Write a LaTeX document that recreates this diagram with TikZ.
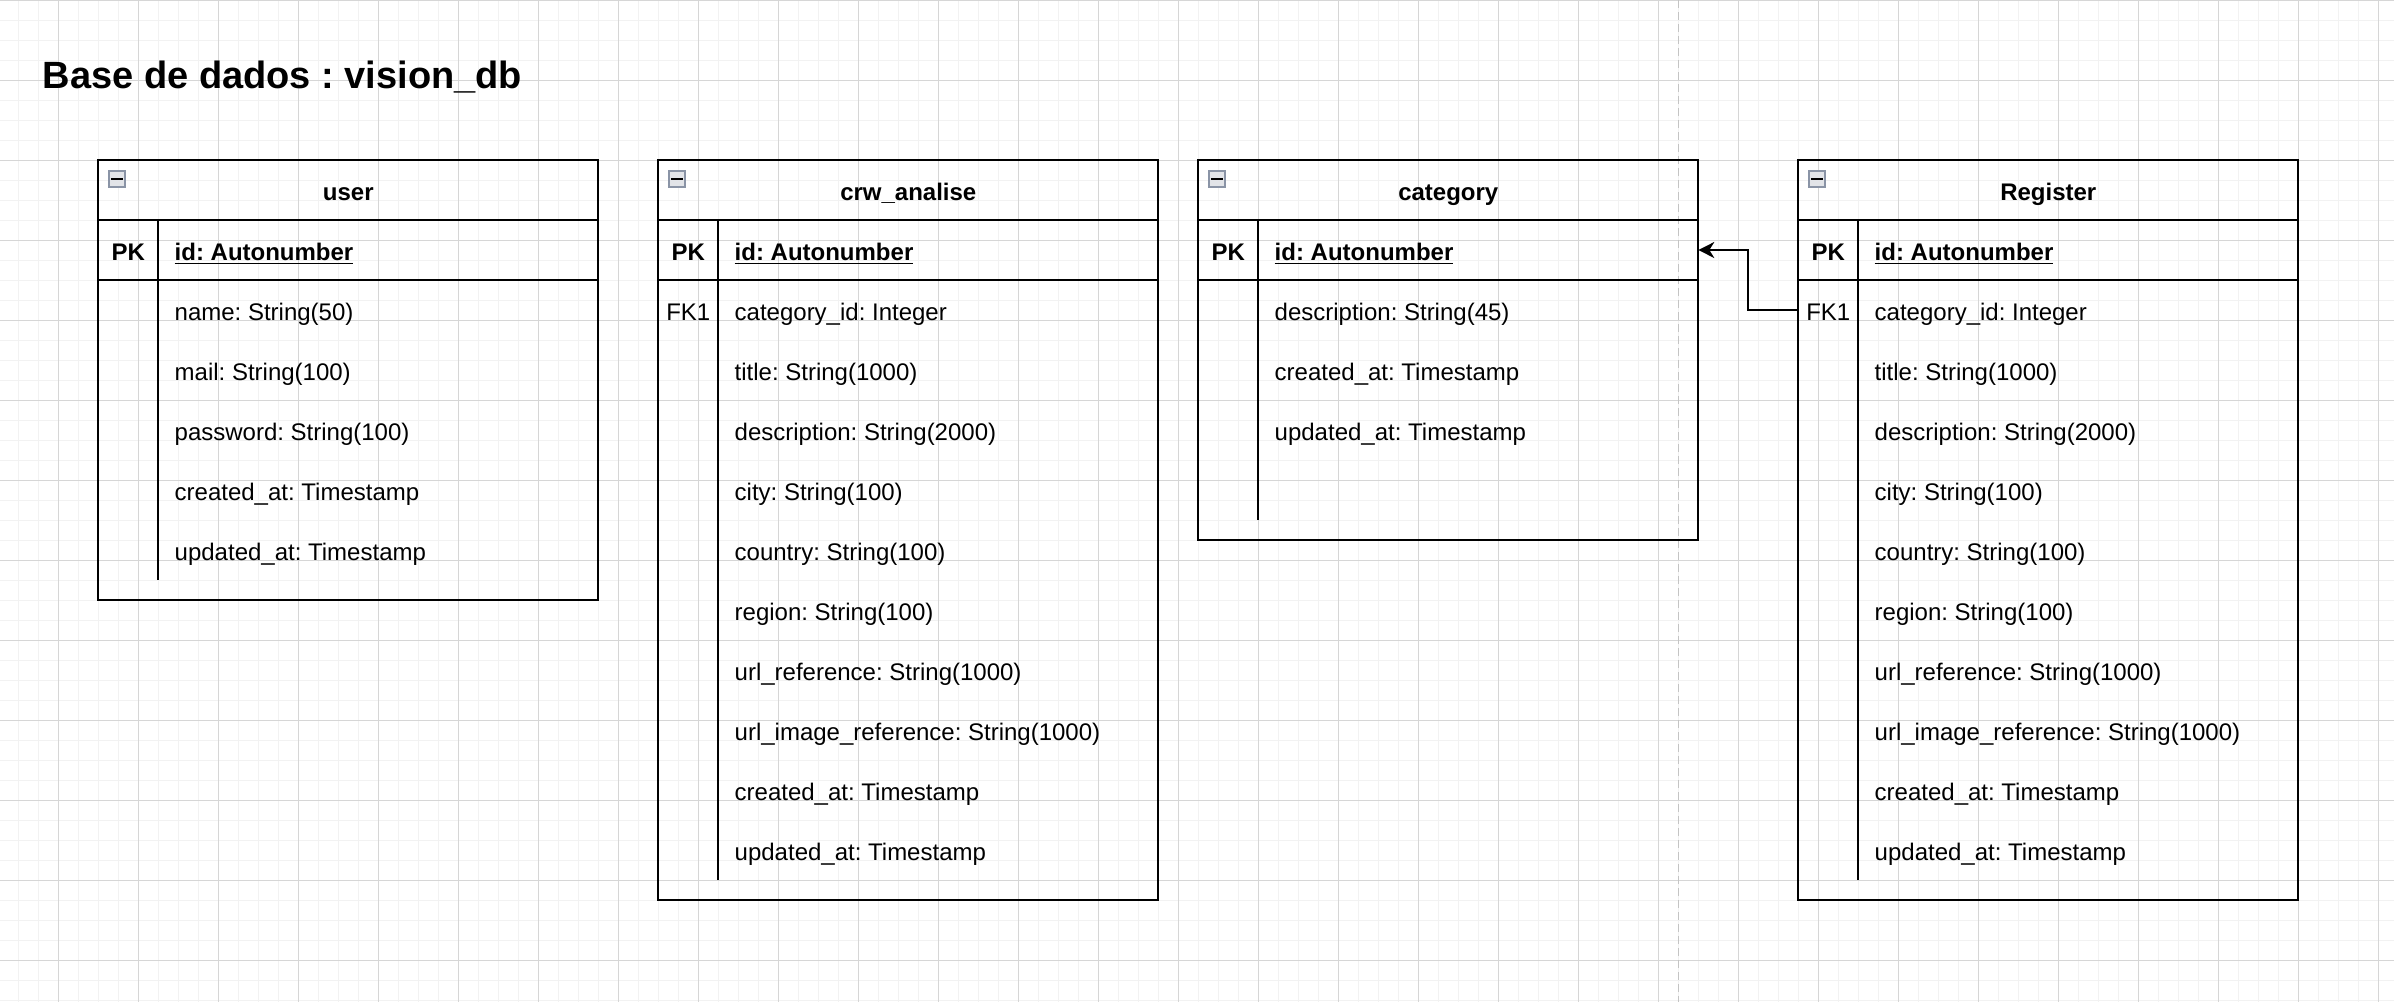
\documentclass[tikz,border=0pt]{standalone}
\usepackage{fontspec}
\setmainfont{Liberation Sans}
\usetikzlibrary{arrows.meta}
\frenchspacing
\definecolor{gridminor}{HTML}{F2F2F2}
\definecolor{gridmajor}{HTML}{D6D6D6}
\definecolor{pagebrk}{HTML}{C4C4C4}
\definecolor{iconedge}{HTML}{8A94A6}
\definecolor{iconfill}{HTML}{E2E4E8}
\tikzset{
  minorline/.style={draw=gridminor, line width=0.5pt},
  majorline/.style={draw=gridmajor, line width=0.5pt},
  pageline/.style={draw=pagebrk, line width=0.6pt, dash pattern=on 4pt off 2pt},
  tablebox/.style={draw=black, line width=1.05pt, anchor=north west, minimum width=250pt, inner sep=0pt, outer sep=0pt},
  tline/.style={draw=black, line width=1.05pt},
  iconbox/.style={draw=iconedge, line width=0.8pt, fill=iconfill, minimum size=8.2pt, inner sep=0pt},
  hdr/.style={font=\fontsize{12pt}{14pt}\selectfont\bfseries, anchor=base, inner sep=0pt},
  keytxt/.style={font=\fontsize{12pt}{14pt}\selectfont, anchor=base, inner sep=0pt},
  fieldtxt/.style={font=\fontsize{12pt}{14pt}\selectfont, anchor=base west, inner sep=0pt},
  fkarrow/.style={draw=black, line width=1pt, -{Stealth[length=8pt, width=8pt, inset=2.5pt]}},
}
% #1 name, #2 left x (pt), #3 title, #4 number of field rows, #5 field texts
\newcommand\ertable[5]{%
  \pgfmathsetmacro\tbh{60+30*#4+10}%
  \pgfmathsetmacro\dvl{30+30*#4}%
  \node[tablebox, minimum height=\tbh pt] (#1) at (#2pt,-80pt) {};
  \draw[tline] ([yshift=-30pt]#1.north west) -- ([yshift=-30pt]#1.north east);
  \draw[tline] ([yshift=-60pt]#1.north west) -- ([yshift=-60pt]#1.north east);
  \draw[tline] ([shift={(30pt,-30pt)}]#1.north west) -- ++(0pt,-\dvl pt);
  \node[iconbox] (#1-icon) at ([shift={(9.35pt,-9.5pt)}]#1.north west) {};
  \draw[black, line width=1.3pt] ([xshift=-2.8pt]#1-icon.center) -- ([xshift=2.8pt]#1-icon.center);
  \node[hdr] (#1-title) at ([shift={(125pt,-20.3pt)}]#1.north west) {#3};
  \coordinate (#1-pkrow) at ([shift={(125pt,-45pt)}]#1.north west);
  \node[keytxt, font=\fontsize{12pt}{14pt}\selectfont\bfseries] (#1-pk) at ([shift={(15pt,-50.3pt)}]#1.north west) {PK};
  \node[fieldtxt, font=\fontsize{12pt}{14pt}\selectfont\bfseries] (#1-id) at ([shift={(38pt,-50.3pt)}]#1.north west) {\underline{id: Autonumber}};
  \foreach \t [count=\i] in {#5} {
    \coordinate (#1-r\i) at ([shift={(125pt,{-45pt-30pt*\i})}]#1.north west);
    \node[fieldtxt] (#1-f\i) at ([shift={(38pt,{-50.3pt-30pt*\i})}]#1.north west) {\t};
  }
}
\begin{document}
\begin{tikzpicture}[x=1pt,y=1pt]
  \useasboundingbox (0,0) rectangle (1197,-501);
  \fill[white] (0,0) rectangle (1197,-501);
  % grid
  \foreach \x in {-0.85,9.15,...,1197} { \draw[minorline] (\x,0) -- (\x,-501); }
  \foreach \y in {0,10,...,500} { \draw[minorline] (0,-\y) -- (1197,-\y); }
  \foreach \x in {29.15,69.15,...,1197} { \draw[majorline] (\x,0) -- (\x,-501); }
  \foreach \y in {0,40,...,500} { \draw[majorline] (0,-\y) -- (1197,-\y); }
  \draw[pageline] (839.15,0) -- (839.15,-501);
  % title
  \node[anchor=base west, inner sep=0pt, font=\fontsize{19pt}{22pt}\selectfont\bfseries] (title) at (21.2,-44.3) {Base de dados : vision\_db};
  % tables
  \ertable{user}{49.15}{user}{5}{name: String(50), mail: String(100), password: String(100), created\_at: Timestamp, updated\_at: Timestamp}
  \ertable{crw}{329.15}{crw\_analise}{10}{category\_id: Integer, title: String(1000), description: String(2000), city: String(100), country: String(100), region: String(100), url\_reference: String(1000), url\_image\_reference: String(1000), created\_at: Timestamp, updated\_at: Timestamp}
  \ertable{category}{599.15}{category}{4}{description: String(45), created\_at: Timestamp, updated\_at: Timestamp}
  \ertable{register}{899.15}{Register}{10}{category\_id: Integer, title: String(1000), description: String(2000), city: String(100), country: String(100), region: String(100), url\_reference: String(1000), url\_image\_reference: String(1000), created\_at: Timestamp, updated\_at: Timestamp}
  \node[keytxt] (crw-fk) at ([shift={(15pt,-80.3pt)}]crw.north west) {FK1};
  \node[keytxt] (register-fk) at ([shift={(15pt,-80.3pt)}]register.north west) {FK1};
  % relation
  \coordinate (bend) at (874.15,0);
  \draw[fkarrow] (register.west |- register-r1) -| (bend |- category-pkrow) -- (category.east |- category-pkrow);
\end{tikzpicture}
\end{document}
